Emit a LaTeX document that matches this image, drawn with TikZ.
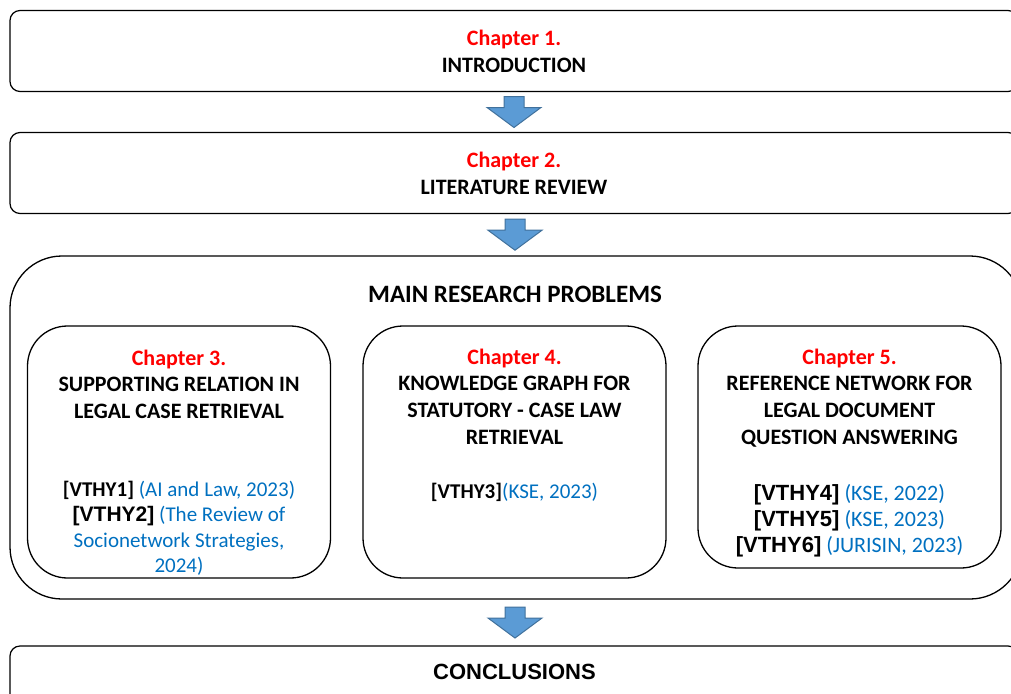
\documentclass[tikz,border=0pt]{standalone}
\usepackage{fontspec}
\setmainfont{Carlito}
\newfontfamily\arialfont{Liberation Sans}
\usetikzlibrary{calc}
\definecolor{chapred}{HTML}{FF0000}
\definecolor{refblue}{HTML}{0070C0}
\definecolor{arrowfill}{HTML}{5B9BD5}
\definecolor{arrowedge}{HTML}{41719C}
\newcommand\chap[1]{\textcolor{chapred}{#1}}
\newcommand\vref[1]{\textcolor{refblue}{\mdseries #1}}
\begin{document}
\begin{tikzpicture}[x=1pt,y=-1pt,
  wide/.style={draw=black, line width=1.2pt, rounded corners=10pt, inner sep=0pt,
    minimum width=1008pt, minimum height=81pt, align=center,
    font=\bfseries\fontsize{22}{26.8}\selectfont},
  panel/.style={draw=black, line width=1.3pt, rounded corners=52pt, inner sep=0pt},
  chapbox/.style={draw=black, line width=1.3pt, rounded corners=40pt, inner sep=0pt,
    minimum width=303pt},
  headtext/.style={inner sep=0pt, anchor=base, text width=300pt, align=flush center,
    font=\bfseries\fontsize{22}{26.8}\selectfont},
  reftext/.style={inner sep=0pt, anchor=base, text width=300pt, align=flush center,
    font=\bfseries\fontsize{21}{25.6}\selectfont},
  arrowbody/.style={fill=arrowfill, draw=arrowedge, line width=1pt, line join=miter},
  pics/blockarrow/.style={code={
    \draw[arrowbody] (-10,-15.5) -- (10,-15.5) -- (10,-4.5) -- (27,-4.5)
      -- (0,15.5) -- (-27,-4.5) -- (-10,-4.5) -- cycle;}}
]
\useasboundingbox (0,0) rectangle (1011,693);

% opening chapters
\node[wide] (intro) at (514,51) {\chap{Chapter 1.}\\INTRODUCTION};
\node[wide] (lit) at (514,173) {\chap{Chapter 2.}\\LITERATURE REVIEW};

% main research problems panel
\node[panel, minimum width=1012pt, minimum height=343pt] (main) at (516,427.5) {};
\node[inner sep=0pt, anchor=base, font=\bfseries\fontsize{25}{30}\selectfont]
  (title) at (515,302) {MAIN RESEARCH PROBLEMS};

\node[chapbox, minimum height=252pt] (c3) at (179,452) {};
\node[chapbox, minimum height=252pt] (c4) at (514.5,452) {};
\node[chapbox, minimum height=242pt] (c5) at (849.5,447) {};

\node[headtext] (c3h) at (179,365)
  {\chap{Chapter 3.}\\SUPPORTING RELATION IN\\LEGAL CASE RETRIEVAL};
\node[reftext] (c3r) at (179,496)
  {[VTHY1] \vref{(AI and Law, 2023)}\\
   {\arialfont [VTHY2]} \vref{(The Review of}\\
   \vref{Socionetwork Strategies,}\\
   \vref{2024)}};

\node[headtext] (c4h) at (514.5,364)
  {\chap{Chapter 4.}\\KNOWLEDGE GRAPH FOR\\STATUTORY - CASE LAW\\RETRIEVAL};
\node[reftext] (c4r) at (514.5,498) {[VTHY3]\vref{(KSE, 2023)}};

\node[headtext] (c5h) at (849.5,364)
  {\chap{Chapter 5.}\\REFERENCE NETWORK FOR\\LEGAL DOCUMENT\\QUESTION ANSWERING};
\node[reftext, font=\bfseries\fontsize{22}{26.2}\selectfont] (c5r) at (849.5,500)
  {{\arialfont [VTHY4]} \vref{(KSE, 2022)}\\
   {\arialfont [VTHY5]} \vref{(KSE, 2023)}\\
   {\arialfont [VTHY6]} \vref{(JURISIN, 2023)}};

% closing chapter
\node[draw=black, line width=1.2pt, rounded corners=10pt, inner sep=0pt,
  minimum width=1008pt, minimum height=81pt] (concl) at (514,686.5) {};
\node[inner sep=0pt, anchor=base, font=\arialfont\bfseries\fontsize{22}{26}\selectfont]
  (conclt) at (514.5,679) {CONCLUSIONS};

% flow arrows between stages
\pic at ($(intro.south)!0.5!(lit.north)$) {blockarrow};
\pic at ($(lit.south)!0.5!(main.north)$) {blockarrow};
\pic at ($(main.south)!0.5!(concl.north)$) {blockarrow};
\end{tikzpicture}
\end{document}
